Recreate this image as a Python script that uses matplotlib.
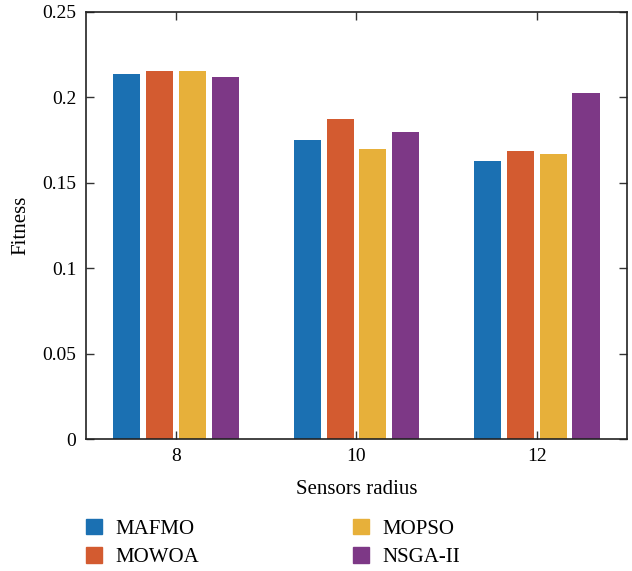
import numpy as np
import matplotlib
matplotlib.use('Agg')
import matplotlib.pyplot as plt
from matplotlib.patches import Patch

# Chart data
radius = ['8', '10', '12']
mafmo = [0.2135, 0.1753, 0.163]
mowoa = [0.2153, 0.1876, 0.1688]
mopso = [0.2153, 0.170, 0.167]
nsga2 = [0.2118, 0.180, 0.2024]

names = ['MAFMO', 'MOWOA', 'MOPSO', 'NSGA-II']
colors = ['#1b70b2', '#d35b30', '#e7b03a', '#7d3886']

plt.rcParams['font.family'] = ['Liberation Serif', 'DejaVu Serif']

fig = plt.figure(figsize=(6.32, 5.71), dpi=100)
ax = fig.add_axes([0.136, 0.231, 0.856, 0.748])

x = np.arange(1, len(radius) + 1)
offsets = [-0.273, -0.091, 0.091, 0.273]
for vals, off, col, name in zip([mafmo, mowoa, mopso, nsga2], offsets, colors, names):
    ax.bar(x + off, vals, width=0.15, color=col, label=name)

ax.set_xlim(0.5, 3.5)
ax.set_ylim(0, 0.25)
ax.set_xticks(x)
ax.set_xticklabels(radius)
ax.set_yticks([0, 0.05, 0.1, 0.15, 0.2, 0.25])
ax.set_yticklabels(['0', '0.05', '0.1', '0.15', '0.2', '0.25'])
ax.tick_params(direction='in', length=6, width=1, top=True, right=True,
               labelsize=14, color='#333333')
ax.tick_params(axis='x', pad=6.5)
ax.tick_params(axis='y', pad=7)
for s in ax.spines.values():
    s.set_linewidth(1.2)
    s.set_color('#222222')

ax.set_xlabel('Sensors radius', fontsize=15)
ax.set_ylabel('Fitness', fontsize=15)
ax.xaxis.set_label_coords(0.5, -0.096)
ax.yaxis.set_label_coords(-0.102, 0.5)

handles = [Patch(color=c) for c in colors]
fig.legend(handles, names, ncol=2, frameon=False, fontsize=15,
           loc='upper left', bbox_to_anchor=(0.106, 0.124),
           handlelength=0.77, handleheight=0.77, handletextpad=0.63,
           columnspacing=7.4, labelspacing=0.4)

fig.savefig('out.png', dpi=100)
